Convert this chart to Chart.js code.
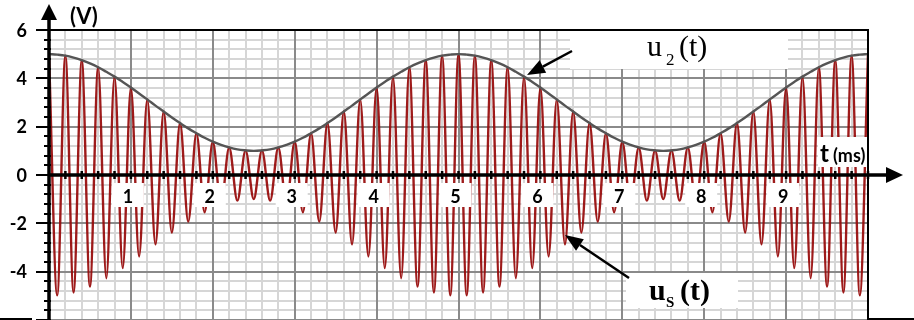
<!DOCTYPE html>
<html><head><meta charset="utf-8">
<script src="https://cdn.jsdelivr.net/npm/chart.js@4.4.1/dist/chart.umd.min.js"></script>
<style>html,body{margin:0;padding:0;background:#fff;overflow:hidden}canvas{display:block}</style>
</head><body>
<canvas id="c" width="914" height="320"></canvas>
<script>
// time axis (ms)
const timeMs = [0,0.1,0.2,0.3,0.4,0.5,0.6,0.7,0.8,0.9,1,1.1,1.2,1.3,1.4,1.5,1.6,1.7,1.8,1.9,2,2.1,2.2,2.3,2.4,2.5,2.6,2.7,2.8,2.9,3,3.1,3.2,3.3,3.4,3.5,3.6,3.7,3.8,3.9,4,4.1,4.2,4.3,4.4,4.5,4.6,4.7,4.8,4.9,5,5.1,5.2,5.3,5.4,5.5,5.6,5.7,5.8,5.9,6,6.1,6.2,6.3,6.4,6.5,6.6,6.7,6.8,6.9,7,7.1,7.2,7.3,7.4,7.5,7.6,7.7,7.8,7.9,8,8.1,8.2,8.3,8.4,8.5,8.6,8.7,8.8,8.9,9,9.1,9.2,9.3,9.4,9.5,9.6,9.7,9.8,9.9,10];
// envelope u2(t) (V)
const u2Values = [5.00,4.98,4.94,4.86,4.75,4.62,4.46,4.27,4.07,3.85,3.62,3.37,3.13,2.87,2.63,2.38,2.15,1.93,1.73,1.54,1.38,1.25,1.14,1.06,1.02,1.00,1.02,1.06,1.14,1.25,1.38,1.54,1.73,1.93,2.15,2.38,2.63,2.87,3.13,3.37,3.62,3.85,4.07,4.27,4.46,4.62,4.75,4.86,4.94,4.98,5.00,4.98,4.94,4.86,4.75,4.62,4.46,4.27,4.07,3.85,3.62,3.37,3.13,2.87,2.63,2.38,2.15,1.93,1.73,1.54,1.38,1.25,1.14,1.06,1.02,1.00,1.02,1.06,1.14,1.25,1.38,1.54,1.73,1.93,2.15,2.38,2.63,2.87,3.13,3.37,3.62,3.85,4.07,4.27,4.46,4.62,4.75,4.86,4.94,4.98,5.00];
// modulated signal us(t) peaks (V)
const usValues = [5.00,-4.98,4.94,-4.86,4.75,-4.62,4.46,-4.27,4.07,-3.85,3.62,-3.37,3.13,-2.87,2.63,-2.38,2.15,-1.93,1.73,-1.54,1.38,-1.25,1.14,-1.06,1.02,-1.00,1.02,-1.06,1.14,-1.25,1.38,-1.54,1.73,-1.93,2.15,-2.38,2.63,-2.87,3.13,-3.37,3.62,-3.85,4.07,-4.27,4.46,-4.62,4.75,-4.86,4.94,-4.98,5.00,-4.98,4.94,-4.86,4.75,-4.62,4.46,-4.27,4.07,-3.85,3.62,-3.37,3.13,-2.87,2.63,-2.38,2.15,-1.93,1.73,-1.54,1.38,-1.25,1.14,-1.06,1.02,-1.00,1.02,-1.06,1.14,-1.25,1.38,-1.54,1.73,-1.93,2.15,-2.38,2.63,-2.87,3.13,-3.37,3.62,-3.85,4.07,-4.27,4.46,-4.62,4.75,-4.86,4.94,-4.98,5.00];
const xTickLabels = [1,2,3,4,5,6,7,8,9];
const yTickLabels = [6,4,2,0,-2,-4];

function arrow(ctx, x1, y1, x2, y2) {
  const a = Math.atan2(y2 - y1, x2 - x1), L = 18, W = 7;
  const bx = x2 - L * Math.cos(a), by = y2 - L * Math.sin(a);
  ctx.strokeStyle = '#000'; ctx.lineWidth = 2.5;
  ctx.beginPath(); ctx.moveTo(x1, y1); ctx.lineTo(bx, by); ctx.stroke();
  ctx.fillStyle = '#000';
  ctx.beginPath();
  ctx.moveTo(x2, y2);
  ctx.lineTo(bx + W * Math.sin(a), by - W * Math.cos(a));
  ctx.lineTo(bx - W * Math.sin(a), by + W * Math.cos(a));
  ctx.closePath(); ctx.fill();
}

const deco = {
  id: 'deco',
  beforeDraw(chart) {
    const c = chart.ctx; c.save(); c.fillStyle = '#fff'; c.fillRect(0, 0, chart.width, chart.height); c.restore();
  },
  beforeDatasetsDraw(chart) {
    const c = chart.ctx, xs = chart.scales.x, ys = chart.scales.y, a = chart.chartArea;
    c.save();
    c.lineWidth = 2;
    for (const major of [false, true]) {
      c.strokeStyle = major ? '#8a8a8a' : '#d6d6d6';
      for (let i = 0; i <= 50; i++) {
        if ((i % 5 === 0) !== major) continue;
        const x = Math.round(xs.getPixelForValue(i / 5));
        c.beginPath(); c.moveTo(x, a.top); c.lineTo(x, a.bottom); c.stroke();
      }
      for (let j = -15; j <= 15; j++) {
        if ((j % 5 === 0) !== major) continue;
        const y = Math.round(ys.getPixelForValue(j * 2 / 5));
        c.beginPath(); c.moveTo(a.left, y); c.lineTo(a.right, y); c.stroke();
      }
    }
    c.restore();
  },
  afterDatasetsDraw(chart) {
    const c = chart.ctx, xs = chart.scales.x, ys = chart.scales.y, a = chart.chartArea;
    const y0 = ys.getPixelForValue(0);
    c.save();
    // x tick labels with white boxes
    c.font = 'bold 18px Lato';
    c.textAlign = 'center'; c.textBaseline = 'middle';
    xTickLabels.forEach(v => {
      const cx = xs.getPixelForValue(v) - 3;
      c.fillStyle = '#fff'; c.fillRect(cx - 16, y0 + 8, 32, 24);
      c.fillStyle = '#000'; c.fillText(String(v), cx, y0 + 22);
    });
    // boxes for labels
    c.fillStyle = '#fff';
    c.fillRect(570, 31, 218, 38);
    c.fillRect(626, 273, 112, 35);
    c.fillRect(818, 137, 54, 30);
    // top & right frame
    c.strokeStyle = '#000'; c.lineWidth = 2;
    c.beginPath(); c.moveTo(a.left, a.top); c.lineTo(a.right, a.top); c.lineTo(a.right, a.bottom); c.stroke();
    // bottom stubs
    c.beginPath(); c.moveTo(0, 319); c.lineTo(32, 319); c.stroke();
    c.beginPath(); c.moveTo(a.right, 319); c.lineTo(914, 319); c.stroke();
    // y ticks
    for (let j = -15; j <= 15; j++) {
      const y = Math.round(ys.getPixelForValue(j * 2 / 5));
      const major = j % 5 === 0;
      c.beginPath(); c.moveTo(a.left - (major ? 13 : 5), y); c.lineTo(a.left + 2, y); c.stroke();
    }
    // x axis
    c.lineWidth = 3.5;
    c.beginPath(); c.moveTo(a.left, y0); c.lineTo(888, y0); c.stroke();
    c.fillStyle = '#000';
    c.beginPath(); c.moveTo(903, y0); c.lineTo(886, y0 - 8); c.lineTo(886, y0 + 8); c.closePath(); c.fill();
    // x ticks
    c.lineWidth = 2.5;
    for (let i = 1; i <= 50; i++) {
      const x = xs.getPixelForValue(i / 5);
      c.beginPath(); c.moveTo(x, y0 - 4); c.lineTo(x, y0 + 4); c.stroke();
    }
    // y axis
    c.lineWidth = 3.5;
    c.beginPath(); c.moveTo(a.left, a.bottom); c.lineTo(a.left, 18); c.stroke();
    c.beginPath(); c.moveTo(a.left, 4); c.lineTo(a.left - 8, 20); c.lineTo(a.left + 8, 20); c.closePath(); c.fill();
    // y tick labels
    c.font = 'bold 18px Lato'; c.textAlign = 'right'; c.textBaseline = 'middle';
    yTickLabels.forEach(v => c.fillText(String(v), 27, ys.getPixelForValue(v) + 1));
    // axis titles
    c.textAlign = 'left'; c.font = 'bold 22px Lato';
    c.fillText('(V)', 70, 17);
    c.textBaseline = 'alphabetic';
    c.font = 'bold 24px Lato'; c.fillText('t', 820, 162);
    c.font = 'bold 18px Lato'; c.fillText('(ms)', 833, 162);
    // u2(t)
    c.font = '30px "Liberation Serif"'; c.fillText('u', 647, 56);
    c.font = '17px "Liberation Serif"'; c.fillText('2', 666, 65);
    c.font = '30px "Liberation Serif"'; c.fillText('(t)', 679, 56);
    // us(t)
    c.font = 'bold 30px "Liberation Serif"'; c.fillText('u', 649, 300);
    c.font = 'bold 15px "Liberation Serif"'; c.fillText('S', 666, 307);
    c.font = 'bold 30px "Liberation Serif"'; c.fillText('(t)', 680, 300);
    // arrows
    arrow(c, 572, 51, 527, 75);
    arrow(c, 629, 278, 565, 235);
    c.restore();
  }
};

new Chart(document.getElementById('c').getContext('2d'), {
  type: 'line',
  data: {
    datasets: [
      { label: 'u2(t)', data: timeMs.map((t, i) => ({ x: t, y: u2Values[i] })), borderColor: '#555555', borderWidth: 2.4, pointRadius: 0, tension: 0.4, order: 0 },
      { label: 'us(t)', data: timeMs.map((t, i) => ({ x: t, y: usValues[i] })), borderColor: 'rgba(150,8,8,0.92)', borderWidth: 2.4, pointRadius: 0, cubicInterpolationMode: 'monotone', order: 1 }
    ]
  },
  options: {
    responsive: false, devicePixelRatio: 1, animation: false, events: [],
    layout: { padding: { left: 49, right: 46, top: 30, bottom: 0 } },
    plugins: { legend: { display: false }, tooltip: { enabled: false } },
    scales: {
      x: { type: 'linear', min: 0, max: 10, display: false },
      y: { type: 'linear', min: -6, max: 6, display: false }
    }
  },
  plugins: [deco]
});
</script>
</body></html>
